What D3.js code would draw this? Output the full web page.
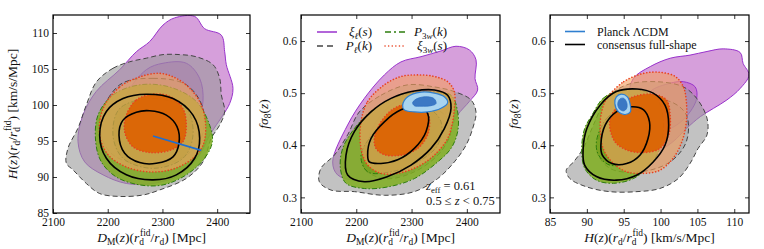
<!DOCTYPE html>
<html>
<head>
<meta charset="utf-8">
<script src="https://cdn.jsdelivr.net/npm/d3@7"></script>
<style>
  body { margin: 0; background: #fff; }
  text { font-family: "Liberation Serif", "DejaVu Serif", serif; fill: #111; }
</style>
</head>
<body>
<svg id="fig" width="764" height="249"></svg>
<script>
// Tick values
var dmTicks = [2100, 2200, 2300, 2400];
var hTicks = [85, 90, 95, 100, 105, 110];
var fsTicks = [0.3, 0.4, 0.5, 0.6];

// ---- D_M vs H contours [D_M, H]
var dmH_xi_2s = [[2221.8,104.9],[2252.3,107.4],[2276.6,108.8],[2301.0,111.1],[2322.3,112.1],[2358.9,112.3],[2377.1,110.6],[2407.6,109.7],[2413.7,107.4],[2416.7,105.6],[2428.9,102.3],[2422.8,100.2],[2410.6,98.6],[2386.3,95.8],[2368.0,93.1],[2331.5,90.3],[2282.7,89.1],[2234.0,89.1],[2191.4,90.3],[2157.9,92.1],[2145.7,94.9],[2154.8,98.6],[2179.2,101.9]];
var dmH_xi_1s = [[2270.5,104.9],[2301.0,105.8],[2343.6,105.8],[2368.0,103.7],[2374.1,100.5],[2361.9,97.2],[2331.5,94.9],[2282.7,94.0],[2240.1,94.9],[2221.8,97.7],[2234.0,101.4]];
var dmH_pk_2s = [[2179.2,103.2],[2209.6,105.1],[2240.1,106.0],[2270.5,106.5],[2301.0,107.0],[2331.5,107.0],[2361.9,106.7],[2392.4,105.6],[2404.6,103.7],[2407.6,101.4],[2413.7,99.1],[2404.6,97.2],[2389.3,95.4],[2374.1,92.1],[2343.6,89.8],[2294.9,88.2],[2264.5,87.5],[2221.8,87.3],[2185.3,87.7],[2160.9,89.1],[2136.5,91.0],[2124.4,91.9],[2127.4,94.0],[2145.7,96.8],[2160.9,100.0]];
var dmH_pk_1s = [[2221.8,102.8],[2282.7,103.7],[2343.6,102.8],[2374.1,99.5],[2368.0,94.9],[2319.3,92.1],[2258.4,91.7],[2203.5,93.5],[2185.3,97.7]];
var dmH_pk3w_2s = [[2182.2,98.6],[2209.6,101.4],[2258.4,102.8],[2313.2,102.5],[2361.9,100.5],[2386.3,97.2],[2391.2,94.9],[2377.1,92.6],[2343.6,90.3],[2301.0,88.9],[2258.4,88.9],[2215.7,90.0],[2188.3,92.1],[2178.0,94.9]];
var dmH_pk3w_1s = [[2221.8,99.5],[2282.7,100.9],[2343.6,99.5],[2355.8,95.8],[2337.5,92.6],[2282.7,91.2],[2227.9,92.6],[2209.6,95.8]];
var dmH_xi3w_2s = [[2191.4,99.5],[2221.8,102.5],[2258.4,103.9],[2294.9,104.4],[2325.4,103.7],[2352.8,102.1],[2371.0,100.0],[2379.0,97.2],[2374.1,94.4],[2355.8,92.6],[2319.3,91.1],[2276.6,90.7],[2234.0,91.4],[2200.5,93.1],[2185.3,95.8]];
var dmH_xi3w_1s = [[2234.0,98.6],[2252.3,100.7],[2282.7,101.5],[2313.2,101.2],[2337.5,99.5],[2343.6,97.2],[2337.5,94.9],[2313.2,93.7],[2276.6,93.4],[2246.2,94.2],[2231.0,96.3]];
var dmH_cons_2s = [[2185.3,95.8],[2197.5,99.1],[2227.9,100.9],[2270.5,101.5],[2319.3,100.9],[2355.8,98.6],[2368.0,95.4],[2358.9,92.6],[2325.4,90.3],[2282.7,89.6],[2234.0,90.3],[2197.5,92.6]];
var dmH_cons_1s = [[2220.6,95.8],[2227.9,97.9],[2252.3,99.0],[2276.6,99.2],[2307.1,98.6],[2326.6,97.0],[2330.2,94.7],[2319.3,92.8],[2288.8,91.9],[2258.4,92.0],[2231.0,93.3]];
var dmH_planck = [[2282.7,95.7],[2371.0,93.7]];

// ---- D_M vs f sigma8 contours [D_M, fs8]
var dmF_xi_2s = [[2157.3,0.368],[2184.4,0.439],[2214.6,0.490],[2250.8,0.535],[2280.9,0.560],[2317.1,0.570],[2353.3,0.581],[2380.4,0.590],[2404.5,0.583],[2416.6,0.564],[2414.8,0.528],[2419.6,0.506],[2404.5,0.484],[2383.4,0.458],[2365.3,0.420],[2341.2,0.381],[2299.0,0.349],[2250.8,0.336],[2196.5,0.333],[2166.3,0.343]];
var dmF_xi_1s = [[2225.6,0.425],[2260.8,0.476],[2305.0,0.500],[2350.3,0.505],[2368.4,0.490],[2361.4,0.460],[2336.2,0.425],[2290.0,0.394],[2246.7,0.384],[2224.6,0.398]];
var dmF_pk_2s = [[2205.5,0.464],[2244.7,0.496],[2293.0,0.516],[2341.2,0.512],[2377.4,0.503],[2407.5,0.487],[2416.6,0.464],[2410.5,0.432],[2398.5,0.400],[2377.4,0.368],[2347.2,0.336],[2305.0,0.311],[2250.8,0.304],[2196.5,0.311],[2154.3,0.314],[2133.2,0.330],[2136.2,0.356],[2160.3,0.381],[2184.4,0.420]];
var dmF_pk_1s = [[2220.6,0.394],[2256.8,0.445],[2305.0,0.471],[2353.3,0.464],[2371.4,0.432],[2353.3,0.388],[2305.0,0.349],[2250.8,0.336],[2214.6,0.356]];
var dmF_pk3w_2s = [[2175.4,0.394],[2196.5,0.432],[2232.7,0.471],[2280.9,0.496],[2329.1,0.503],[2371.4,0.496],[2383.4,0.464],[2383.4,0.426],[2371.4,0.394],[2347.2,0.368],[2305.0,0.336],[2256.8,0.320],[2214.6,0.317],[2181.4,0.327],[2171.2,0.356]];
var dmF_pk3w_1s = [[2208.5,0.381],[2238.7,0.432],[2280.9,0.464],[2329.1,0.471],[2353.3,0.445],[2347.2,0.400],[2311.1,0.368],[2262.8,0.349],[2220.6,0.349]];
var dmF_xi3w_2s = [[2208.5,0.445],[2220.6,0.484],[2250.8,0.516],[2280.9,0.532],[2311.1,0.535],[2341.2,0.532],[2365.3,0.522],[2377.4,0.503],[2377.4,0.471],[2374.4,0.445],[2365.3,0.413],[2341.2,0.381],[2311.1,0.359],[2274.9,0.346],[2244.7,0.346],[2220.6,0.362],[2208.5,0.394]];
var dmF_xi3w_1s = [[2232.7,0.413],[2244.7,0.445],[2268.8,0.471],[2299.0,0.480],[2323.1,0.474],[2332.2,0.452],[2329.1,0.420],[2311.1,0.394],[2280.9,0.381],[2250.8,0.382],[2235.7,0.394]];
var dmF_cons_2s = [[2184.4,0.343],[2181.4,0.381],[2196.5,0.426],[2226.6,0.464],[2262.8,0.490],[2305.0,0.504],[2341.2,0.506],[2365.3,0.496],[2371.4,0.471],[2359.3,0.432],[2335.2,0.394],[2299.0,0.362],[2256.8,0.340],[2214.6,0.330]];
var dmF_cons_1s = [[2220.6,0.381],[2226.6,0.413],[2250.8,0.445],[2280.9,0.468],[2311.1,0.474],[2329.1,0.461],[2326.1,0.426],[2305.0,0.394],[2274.9,0.372],[2244.7,0.365],[2223.6,0.368]];
var dmF_planck_2s = [[2283.9,0.477],[2293.0,0.493],[2317.1,0.502],[2341.2,0.500],[2359.3,0.493],[2365.3,0.482],[2353.3,0.471],[2329.1,0.464],[2305.0,0.464],[2286.9,0.468]];
var dmF_planck_1s = [[2302.0,0.482],[2311.1,0.490],[2329.1,0.493],[2341.2,0.489],[2344.2,0.480],[2335.2,0.476],[2317.1,0.475],[2305.0,0.476]];

// ---- H vs f sigma8 contours [H, fs8]
var hF_xi_2s = [[96.3,0.528],[98.6,0.551],[101.3,0.567],[104.0,0.573],[106.3,0.580],[108.5,0.585],[110.8,0.578],[111.2,0.557],[112.0,0.535],[110.8,0.509],[109.0,0.487],[107.2,0.471],[105.4,0.455],[103.5,0.432],[101.7,0.407],[99.5,0.388],[97.2,0.388],[95.9,0.407],[95.4,0.445],[95.6,0.490]];
var hF_xi_1s = [[98.6,0.503],[101.3,0.519],[103.1,0.522],[104.7,0.512],[104.9,0.490],[104.0,0.464],[102.2,0.439],[99.9,0.426],[98.1,0.439],[97.7,0.471]];
var hF_pk_2s = [[90.9,0.439],[92.7,0.490],[95.4,0.516],[99.5,0.522],[103.1,0.512],[104.9,0.490],[106.3,0.452],[106.3,0.420],[105.1,0.394],[104.0,0.365],[102.4,0.336],[99.9,0.317],[96.8,0.311],[93.1,0.311],[90.0,0.320],[87.7,0.336],[87.2,0.352],[88.2,0.368],[89.5,0.394]];
var hF_pk_1s = [[91.3,0.394],[93.6,0.458],[97.2,0.484],[101.3,0.484],[103.5,0.458],[103.5,0.407],[101.3,0.368],[97.2,0.349],[93.1,0.356]];
var hF_pk3w_2s = [[90.7,0.458],[92.2,0.490],[94.5,0.506],[97.2,0.506],[99.5,0.490],[100.4,0.445],[99.9,0.394],[98.6,0.362],[96.3,0.336],[93.6,0.327],[91.3,0.333],[89.7,0.356],[89.3,0.394],[89.7,0.432]];
var hF_pk3w_1s = [[91.3,0.407],[92.7,0.452],[95.0,0.471],[97.2,0.464],[98.1,0.432],[97.7,0.394],[95.9,0.368],[93.1,0.362],[91.6,0.381]];
var hF_xi3w_2s = [[92.7,0.490],[95.0,0.522],[97.7,0.538],[99.9,0.540],[102.0,0.532],[103.1,0.512],[103.5,0.484],[103.5,0.445],[102.9,0.407],[101.7,0.375],[99.9,0.352],[97.7,0.346],[95.4,0.349],[93.4,0.368],[92.2,0.394],[91.8,0.432],[92.0,0.464]];
var hF_xi3w_1s = [[93.1,0.445],[94.3,0.477],[96.3,0.493],[99.0,0.498],[100.8,0.487],[101.3,0.458],[101.1,0.420],[99.9,0.394],[97.7,0.386],[95.4,0.391],[93.8,0.407]];
var hF_cons_2s = [[90.0,0.432],[91.8,0.477],[94.0,0.503],[96.8,0.508],[99.0,0.500],[100.6,0.477],[101.1,0.439],[100.6,0.400],[99.0,0.368],[96.8,0.343],[94.0,0.333],[91.3,0.340],[89.7,0.362],[89.5,0.394]];
var hF_cons_1s = [[91.9,0.400],[92.5,0.439],[94.0,0.464],[96.1,0.474],[97.7,0.468],[98.5,0.445],[98.3,0.413],[97.2,0.381],[95.4,0.365],[93.4,0.365],[92.1,0.381]];
var hF_planck_2s = [[93.8,0.480],[94.0,0.493],[94.7,0.498],[95.5,0.493],[95.9,0.477],[95.9,0.464],[95.2,0.459],[94.3,0.464]];
var hF_planck_1s = [[94.2,0.480],[94.5,0.489],[95.0,0.490],[95.4,0.482],[95.4,0.471],[95.0,0.466],[94.4,0.470]];

// Label pieces: t text, i italic, sub / sup, dx shift
var dmLabel = [{t:"D",i:1},{t:"M",sub:1},{t:"("},{t:"z",i:1},{t:")("},{t:"r",i:1},{t:"d",sub:1},{t:"fid",sup:1,dx:-4},{t:"/"},{t:"r",i:1},{t:"d",sub:1},{t:") [Mpc]"}];
var hLabel = [{t:"H",i:1},{t:"("},{t:"z",i:1},{t:")("},{t:"r",i:1},{t:"d",sub:1},{t:"/"},{t:"r",i:1},{t:"d",sub:1},{t:"fid",sup:1,dx:-4},{t:") [km/s/Mpc]"}];
var fsLabel = [{t:"f",i:1},{t:"σ",i:1},{t:"8",sub:1},{t:"("},{t:"z",i:1},{t:")"}];

var svg = d3.select("#fig");

function richText(sel, parts, size) {
  parts.forEach(p => {
    var ts = sel.append("tspan").text(p.t);
    if (p.i) ts.attr("font-style", "italic");
    if (p.sub) ts.attr("font-size", size * 0.7).attr("baseline-shift", -size * 0.2);
    if (p.sup) ts.attr("font-size", size * 0.7).attr("baseline-shift", size * 0.42);
    if (p.dx) ts.attr("dx", p.dx);
  });
}

// Probe styles, drawn in this order
var probes = [
  {key: "xi",   fill2: "#c06bc8", op2: 0.65, fill1: "#b040b8", op1: 0.40, stroke: "#9932cc", dash: null},
  {key: "pk",   fill2: "#9a9a9a", op2: 0.60, fill1: "#8a8a8a", op1: 0.30, stroke: "#444444", dash: "5,3"},
  {key: "pk3w", fill2: "#7fae1e", op2: 0.85, fill1: "#6a9a10", op1: 0.50, stroke: "#2e7d0e", dash: "5,2,1.5,2"},
  {key: "xi3w", fill2: "#f5a060", op2: 0.62, fill1: "#dd6000", op1: 0.90, stroke: "#e8401e", dash: "0.1,3"}
];

var panels = [
  {left: 53, top: 15, width: 197, height: 198, xDomain: [2100, 2460], yDomain: [85, 112.5],
   xTicks: dmTicks, yTicks: hTicks, yFmt: d3.format("d"), xLabel: dmLabel, yLabel: hLabel, yLabelX: 17,
   c: {xi: [dmH_xi_2s, dmH_xi_1s], pk: [dmH_pk_2s, dmH_pk_1s], pk3w: [dmH_pk3w_2s, dmH_pk3w_1s], xi3w: [dmH_xi3w_2s, dmH_xi3w_1s]},
   cons: [dmH_cons_2s, dmH_cons_1s], planckLine: dmH_planck},
  {left: 301, top: 15, width: 199, height: 198, xDomain: [2100, 2460], yDomain: [0.27, 0.65],
   xTicks: dmTicks, yTicks: fsTicks, yFmt: d3.format(".1f"), xLabel: dmLabel, yLabel: fsLabel, yLabelX: 268,
   c: {xi: [dmF_xi_2s, dmF_xi_1s], pk: [dmF_pk_2s, dmF_pk_1s], pk3w: [dmF_pk3w_2s, dmF_pk3w_1s], xi3w: [dmF_xi3w_2s, dmF_xi3w_1s]},
   cons: [dmF_cons_2s, dmF_cons_1s], planck: [dmF_planck_2s, dmF_planck_1s]},
  {left: 550, top: 15, width: 199, height: 198, xDomain: [85, 112], yDomain: [0.27, 0.65],
   xTicks: hTicks, yTicks: fsTicks, yFmt: d3.format(".1f"), xLabel: hLabel, yLabel: fsLabel, yLabelX: 518,
   c: {xi: [hF_xi_2s, hF_xi_1s], pk: [hF_pk_2s, hF_pk_1s], pk3w: [hF_pk3w_2s, hF_pk3w_1s], xi3w: [hF_xi3w_2s, hF_xi3w_1s]},
   cons: [hF_cons_2s, hF_cons_1s], planck: [hF_planck_2s, hF_planck_1s]}
];

panels.forEach((p, i) => {
  var x = d3.scaleLinear().domain(p.xDomain).range([0, p.width]);
  var y = d3.scaleLinear().domain(p.yDomain).range([p.height, 0]);
  var line = d3.line().x(d => x(d[0])).y(d => y(d[1])).curve(d3.curveCatmullRomClosed.alpha(0.5));

  var g = svg.append("g").attr("transform", `translate(${p.left},${p.top})`);
  svg.append("clipPath").attr("id", "clip" + i)
     .append("rect").attr("width", p.width).attr("height", p.height);
  var plot = g.append("g").attr("clip-path", `url(#clip${i})`);

  // probe contours: 2 sigma then 1 sigma
  probes.forEach(s => {
    var rings = p.c[s.key];
    [[rings[0], s.fill2, s.op2], [rings[1], s.fill1, s.op1]].forEach(r => {
      plot.append("path").attr("d", line(r[0]))
          .attr("fill", r[1]).attr("fill-opacity", r[2])
          .attr("stroke", s.stroke).attr("stroke-width", s.key == "xi3w" ? 1.6 : 1)
          .attr("stroke-linecap", s.key == "xi3w" ? "round" : "butt")
          .attr("stroke-dasharray", s.dash);
    });
  });

  // consensus full-shape
  p.cons.forEach(r => {
    plot.append("path").attr("d", line(r)).attr("fill", "none")
        .attr("stroke", "#000").attr("stroke-width", 1.6);
  });

  // Planck
  if (p.planck) {
    plot.append("path").attr("d", line(p.planck[0])).attr("fill", "#a8d4f0")
        .attr("stroke", "#2f7fd0").attr("stroke-width", 1.2);
    plot.append("path").attr("d", line(p.planck[1])).attr("fill", "#3b78c4")
        .attr("stroke", "#2f6fc0").attr("stroke-width", 0.8);
  }
  if (p.planckLine) {
    plot.append("path").attr("d", d3.line().x(d => x(d[0])).y(d => y(d[1]))(p.planckLine))
        .attr("fill", "none").attr("stroke", "#1f6fd0").attr("stroke-width", 1.6);
  }

  // axes, ticks inward on all four sides
  var fs = 11.5;
  var ax = [
    g.append("g").attr("transform", `translate(0,${p.height})`)
     .call(d3.axisBottom(x).tickValues(p.xTicks).tickSize(-4).tickPadding(5).tickFormat(d3.format("d"))),
    g.append("g").call(d3.axisTop(x).tickValues(p.xTicks).tickSize(-4).tickFormat("")),
    g.append("g").call(d3.axisLeft(y).tickValues(p.yTicks).tickSize(-4).tickPadding(4).tickFormat(p.yFmt)),
    g.append("g").attr("transform", `translate(${p.width},0)`)
     .call(d3.axisRight(y).tickValues(p.yTicks).tickSize(-4).tickFormat(""))
  ];
  ax.forEach(a => {
    a.select(".domain").remove();
    a.selectAll("line").attr("stroke", "#000").attr("stroke-width", 0.8);
    a.selectAll("text").attr("font-size", fs).attr("font-family", "Liberation Serif, serif").attr("fill", "#222");
  });
  g.append("rect").attr("width", p.width).attr("height", p.height)
   .attr("fill", "none").attr("stroke", "#000").attr("stroke-width", 1.2);

  // axis labels
  var ls = 13.5;
  var xl = svg.append("text").attr("x", p.left + p.width / 2).attr("y", 242)
              .attr("text-anchor", "middle").attr("font-size", ls);
  richText(xl, p.xLabel, ls);
  var yl = svg.append("text").attr("transform", `translate(${p.yLabelX},${p.top + p.height / 2}) rotate(-90)`)
              .attr("text-anchor", "middle").attr("font-size", ls);
  richText(yl, p.yLabel, ls);
});

// Legend in the middle panel
var legend1 = [
  {label: [{t:"ξ",i:1},{t:"ℓ",sub:1,i:1},{t:"("},{t:"s",i:1},{t:")"}], stroke: "#9932cc", dash: null, x: 317, y: 32, tx: 372},
  {label: [{t:"P",i:1},{t:"ℓ",sub:1,i:1},{t:"("},{t:"k",i:1},{t:")"}], stroke: "#444", dash: "6,4", x: 317, y: 46, tx: 372},
  {label: [{t:"P",i:1},{t:"3",sub:1},{t:"w",sub:1,i:1},{t:"("},{t:"k",i:1},{t:")"}], stroke: "#2e7d0e", dash: "6,3,2,3", x: 385, y: 32, tx: 447},
  {label: [{t:"ξ",i:1},{t:"3",sub:1},{t:"w",sub:1,i:1},{t:"("},{t:"s",i:1},{t:")"}], stroke: "#e8401e", dash: "0.1,3.5", x: 385, y: 46, tx: 447}
];
legend1.forEach(d => {
  svg.append("line").attr("x1", d.x).attr("x2", d.x + 20).attr("y1", d.y).attr("y2", d.y)
     .attr("stroke", d.stroke).attr("stroke-width", 1.5).attr("stroke-dasharray", d.dash)
     .attr("stroke-linecap", d.dash == "0.1,3.5" ? "round" : "butt");
  var t = svg.append("text").attr("x", d.tx).attr("y", d.y + 4).attr("text-anchor", "end").attr("font-size", 13);
  richText(t, d.label, 13);
});

// Legend in the right panel
var legend2 = [
  {label: "Planck ΛCDM", stroke: "#2f7fd0", y: 31.5},
  {label: "consensus full-shape", stroke: "#000", y: 44.5}
];
legend2.forEach(d => {
  svg.append("line").attr("x1", 565).attr("x2", 585).attr("y1", d.y).attr("y2", d.y)
     .attr("stroke", d.stroke).attr("stroke-width", 1.6);
  svg.append("text").attr("x", 597).attr("y", d.y + 4).attr("font-size", 12).text(d.label);
});

// Redshift annotation
var z1 = svg.append("text").attr("x", 426).attr("y", 190).attr("font-size", 12.5);
richText(z1, [{t:"z",i:1},{t:"eff",sub:1},{t:" = 0.61"}], 12.5);
var z2 = svg.append("text").attr("x", 426).attr("y", 205).attr("font-size", 12.5);
richText(z2, [{t:"0.5 ≤ "},{t:"z",i:1},{t:" < 0.75"}], 12.5);
</script>
</body>
</html>
